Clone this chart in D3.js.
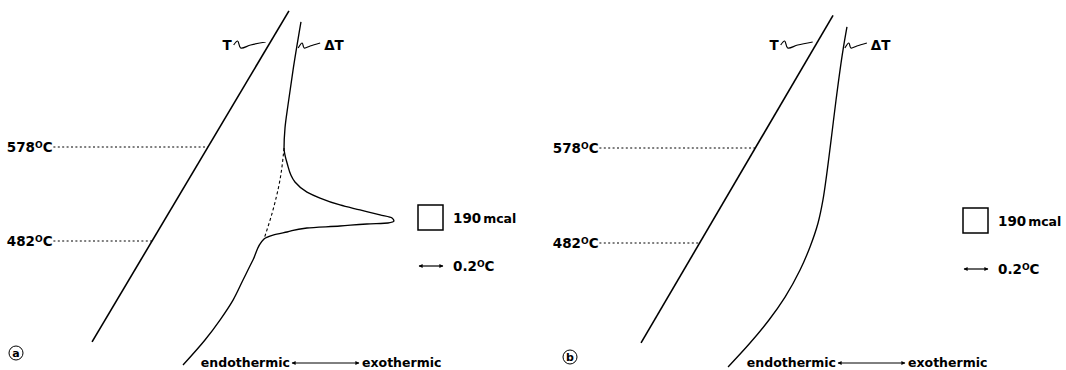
<!DOCTYPE html>
<html>
<head>
<meta charset="utf-8">
<script src="https://cdn.jsdelivr.net/npm/d3@7"></script>
<style>
body { margin: 0; background: #fff; }
svg { display: block; font-family: "DejaVu Sans", sans-serif; font-weight: bold; }
</style>
</head>
<body>
<svg id="chart" width="1066" height="370"></svg>
<script>
// temperatures marked on the T trace
const markTemps = [578, 482];

// panel a  [deflection °C, temperature °C]
const aT = [[2.408, 717], [0.767, 379]];
const aDeltaT = [
    [2.508, 705.7], [2.442, 656.6], [2.400, 620.9], [2.375, 597.4], [2.367, 577.0],
    [2.392, 561.7], [2.458, 542.3], [2.558, 532.0], [2.667, 525.9], [2.833, 518.8],
    [3.000, 513.7], [3.167, 508.6], [3.267, 505.5], [3.283, 502.4], [3.233, 500.4],
    [3.058, 499.4], [2.833, 497.3], [2.558, 495.3], [2.392, 491.2], [2.275, 488.1],
    [2.200, 484.0], [2.108, 462.6], [2.025, 442.2], [1.942, 421.7], [1.833, 401.3],
    [1.708, 380.9], [1.525, 355.4]];
const aBaseline = [[2.367, 577.0], [2.333, 544.3], [2.275, 513.7], [2.200, 484.0]];

// panel b
const bT = [[2.392, 712], [0.792, 381]];
const bDeltaT = [
    [2.508, 700.3], [2.475, 677.0], [2.417, 626.5], [2.383, 593.2], [2.358, 568.9],
    [2.333, 545.7], [2.308, 525.5], [2.267, 502.2], [2.200, 478.0], [2.117, 454.7],
    [1.992, 427.4], [1.858, 404.2], [1.700, 380.9], [1.517, 356.7]];

const scaleArea = '190';
const scaleAreaUnit = 'mcal';
const scaleDelta = 0.2;
const axisWords = ['endothermic', 'exothermic'];
const traceNames = ['T', 'ΔT'];

var svg = d3.select('#chart');

var defs = svg.append('defs');
defs.append('marker').attr('id', 'head')
    .attr('viewBox', '0 0 10 10').attr('refX', 9).attr('refY', 5)
    .attr('markerWidth', 5).attr('markerHeight', 4).attr('markerUnits', 'userSpaceOnUse')
    .attr('orient', 'auto-start-reverse')
    .append('path').attr('d', 'M0,0L10,5L0,10z').attr('fill', '#000');

function xAt(pts, t) {
    for (var i = 0; i < pts.length - 1; i++) {
        var p = pts[i], q = pts[i + 1];
        if ((t - p[1]) * (t - q[1]) <= 0) {
            return p[0] + (q[0] - p[0]) * (t - p[1]) / (q[1] - p[1]);
        }
    }
    return pts[0][0];
}

function create_panel(cfg, tLine, dtLine, baseline) {
    var g = svg.append('g').attr('transform', 'translate(' + cfg.ox + ',0)');
    var xs = d3.scaleLinear().domain([0, 4]).range([0, 480]);
    var ys = d3.scaleLinear().domain([482, 578]).range([cfg.y482, cfg.y578]);
    var line = d3.line().x(function (d) { return xs(d[0]); }).y(function (d) { return ys(d[1]); });
    var curve = d3.line().x(function (d) { return xs(d[0]); }).y(function (d) { return ys(d[1]); })
        .curve(d3.curveMonotoneY);

    g.append('path').datum(tLine).attr('d', line)
        .attr('fill', 'none').attr('stroke', '#000').attr('stroke-width', 1.6);
    g.append('path').datum(dtLine).attr('d', curve)
        .attr('fill', 'none').attr('stroke', '#000').attr('stroke-width', 1.35);
    if (baseline) {
        g.append('path').datum(baseline).attr('d', curve)
            .attr('fill', 'none').attr('stroke', '#000').attr('stroke-width', 1.1)
            .attr('stroke-dasharray', '3,2.5');
    }

    // dotted guides to the T trace
    g.selectAll('line.guide').data(markTemps).enter().append('line')
        .attr('x1', xs(0.445))
        .attr('x2', function (d) { return xs(xAt(tLine, d)); })
        .attr('y1', function (d) { return ys(d); })
        .attr('y2', function (d) { return ys(d); })
        .attr('stroke', '#000').attr('stroke-width', 1)
        .attr('stroke-dasharray', '2,2.4');

    g.selectAll('text.temp').data(markTemps).enter().append('text')
        .attr('x', xs(0.438)).attr('y', function (d) { return ys(d) + 5; })
        .attr('text-anchor', 'end').attr('font-size', 13.5)
        .each(function (d) {
            var t = d3.select(this);
            t.append('tspan').text(d);
            t.append('tspan').attr('font-size', 9).attr('dy', -4).text('O');
            t.append('tspan').attr('dy', 4).text('C');
        });

    // trace labels with squiggle leaders
    var labT = ys.invert(cfg.labY);
    var ex = xs(xAt(tLine, labT)) - 3, ey = cfg.labY - 2;
    var sq = d3.line().curve(d3.curveCatmullRom.alpha(0.5));
    g.append('path')
        .attr('d', sq([[ex - 32, ey + 2], [ex - 28, ey - 2], [ex - 25, ey + 5], [ex - 15, ey + 2], [ex, ey - 1]]))
        .attr('fill', 'none').attr('stroke', '#000').attr('stroke-width', 1.2);
    g.append('text').attr('x', ex - 34).attr('y', cfg.labY + 5)
        .attr('text-anchor', 'end').attr('font-size', 13.5).text(traceNames[0]);

    var sx = xs(xAt(dtLine, labT)) + 1, sy = cfg.labY + 3;
    g.append('path')
        .attr('d', sq([[sx, sy], [sx + 4, sy - 5], [sx + 6, sy], [sx + 12, sy - 2], [sx + 22, sy - 5]]))
        .attr('fill', 'none').attr('stroke', '#000').attr('stroke-width', 1.2);
    g.append('text').attr('x', sx + 26).attr('y', cfg.labY + 5)
        .attr('font-size', 13.5).text(traceNames[1]);

    // calibration: area square and deflection bar
    g.append('rect').attr('x', cfg.legX).attr('y', cfg.boxY).attr('width', 25).attr('height', 25)
        .attr('fill', 'none').attr('stroke', '#000').attr('stroke-width', 1.5);
    var at = g.append('text').attr('x', cfg.legX + 35).attr('y', cfg.boxY + 18);
    at.append('tspan').attr('font-size', 13.5).text(scaleArea);
    at.append('tspan').attr('font-size', 12.5).attr('dx', 2).text(scaleAreaUnit);

    var x0 = cfg.legX + 1;
    g.append('line').attr('x1', x0).attr('x2', x0 + xs(scaleDelta) - xs(0))
        .attr('y1', cfg.barY).attr('y2', cfg.barY)
        .attr('stroke', '#000').attr('stroke-width', 1.2)
        .attr('marker-start', 'url(#head)').attr('marker-end', 'url(#head)');
    var dt = g.append('text').attr('x', cfg.legX + 35).attr('y', cfg.barY + 5).attr('font-size', 13.5);
    dt.append('tspan').text(scaleDelta.toFixed(1));
    dt.append('tspan').attr('font-size', 9).attr('dy', -4).text('O');
    dt.append('tspan').attr('dy', 4).text('C');

    // endothermic <-> exothermic
    g.append('text').attr('x', 290).attr('y', 367).attr('text-anchor', 'end')
        .attr('font-size', 12.5).text(axisWords[0]);
    g.append('line').attr('x1', 292).attr('x2', 359).attr('y1', 363).attr('y2', 363)
        .attr('stroke', '#000').attr('stroke-width', 1)
        .attr('marker-start', 'url(#head)').attr('marker-end', 'url(#head)');
    g.append('text').attr('x', 362).attr('y', 367)
        .attr('font-size', 12.5).text(axisWords[1]);

    // panel letter
    g.append('circle').attr('cx', cfg.tagX).attr('cy', cfg.tagY).attr('r', 7)
        .attr('fill', 'none').attr('stroke', '#000').attr('stroke-width', 1);
    g.append('text').attr('x', cfg.tagX).attr('y', cfg.tagY + 4).attr('text-anchor', 'middle')
        .attr('font-size', 11).text(cfg.name);
}

create_panel({ox: 0, y482: 241, y578: 147, labY: 45, legX: 418, boxY: 205, barY: 266, tagX: 16, tagY: 353, name: 'a'},
    aT, aDeltaT, aBaseline);
create_panel({ox: 546, y482: 243, y578: 148, labY: 45, legX: 417, boxY: 208, barY: 269, tagX: 24, tagY: 357, name: 'b'},
    bT, bDeltaT, null);
</script>
</body>
</html>
